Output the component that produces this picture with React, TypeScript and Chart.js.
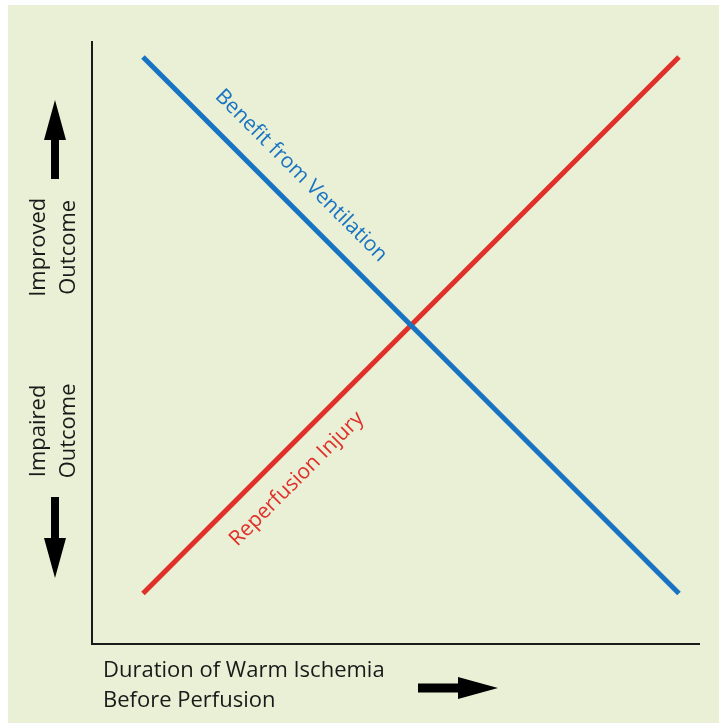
import React, { useEffect, useRef } from "react";
import { Chart, registerables } from "chart.js";

Chart.register(...registerables);

// Data (arbitrary units: x = duration of warm ischemia, y = outcome)
const xPoints = [8.4, 96.7];
const benefitValues = [97.5, 8.4];
const injuryValues = [8.4, 97.5];

const benefitLabel = "Benefit from Ventilation";
const injuryLabel = "Reperfusion Injury";
const improvedLabel = ["Improved", "Outcome"];
const impairedLabel = ["Impaired", "Outcome"];
const xAxisLabel = ["Duration of Warm Ischemia", "Before Perfusion"];

const BG = "#E9F0D5";
const BLUE = "#1873C2";
const RED = "#E0302A";
const INK = "#1a1a1a";
const FONT = "'Open Sans', 'DejaVu Sans', sans-serif";

function arrow(ctx: CanvasRenderingContext2D, x0: number, y0: number, x1: number, y1: number, shaft: number, headW: number, headL: number) {
  const ang = Math.atan2(y1 - y0, x1 - x0);
  const len = Math.hypot(x1 - x0, y1 - y0);
  ctx.save();
  ctx.translate(x0, y0);
  ctx.rotate(ang);
  ctx.beginPath();
  ctx.moveTo(0, -shaft / 2);
  ctx.lineTo(len - headL, -shaft / 2);
  ctx.lineTo(len - headL, -headW / 2);
  ctx.lineTo(len, 0);
  ctx.lineTo(len - headL, headW / 2);
  ctx.lineTo(len - headL, shaft / 2);
  ctx.lineTo(0, shaft / 2);
  ctx.closePath();
  ctx.fillStyle = "#000";
  ctx.fill();
  ctx.restore();
}

function lineLabel(chart: any, xs: number[], ys: number[], t: number, text: string, color: string, offset: number) {
  const sx = chart.scales.x;
  const sy = chart.scales.y;
  const px0 = sx.getPixelForValue(xs[0]);
  const py0 = sy.getPixelForValue(ys[0]);
  const px1 = sx.getPixelForValue(xs[1]);
  const py1 = sy.getPixelForValue(ys[1]);
  let ang = Math.atan2(py1 - py0, px1 - px0);
  if (ang > Math.PI / 2 || ang < -Math.PI / 2) ang += Math.PI;
  const px = px0 + (px1 - px0) * t;
  const py = py0 + (py1 - py0) * t;
  const ctx = chart.ctx as CanvasRenderingContext2D;
  ctx.save();
  ctx.translate(px, py);
  ctx.rotate(ang);
  ctx.font = `21px ${FONT}`;
  ctx.fillStyle = color;
  ctx.textAlign = "center";
  ctx.textBaseline = "middle";
  ctx.fillText(text, 0, -offset);
  ctx.restore();
}

const decorPlugin = {
  id: "decor",
  afterDraw(chart: any) {
    const ctx = chart.ctx as CanvasRenderingContext2D;
    const a = chart.chartArea;
    const h = a.bottom - a.top;

    lineLabel(chart, xPoints, benefitValues, 0.258, benefitLabel, BLUE, 28);
    lineLabel(chart, xPoints, injuryValues, 0.25, injuryLabel, RED, -28);

    ctx.save();
    ctx.font = `22px ${FONT}`;
    ctx.fillStyle = INK;
    ctx.textAlign = "center";
    ctx.textBaseline = "middle";
    const colX = a.left - 38;
    const groups: [string[], number][] = [
      [improvedLabel, 0.341],
      [impairedLabel, 0.646],
    ];
    for (const [lines, f] of groups) {
      ctx.save();
      ctx.translate(colX, a.top + h * f);
      ctx.rotate(-Math.PI / 2);
      ctx.fillText(lines[0], 0, -15);
      ctx.fillText(lines[1], 0, 15);
      ctx.restore();
    }
    ctx.textAlign = "left";
    ctx.fillText(xAxisLabel[0], a.left + 11, a.bottom + 27);
    ctx.fillText(xAxisLabel[1], a.left + 11, a.bottom + 57);
    ctx.restore();

    arrow(ctx, a.left - 37, a.top + 137, a.left - 37, a.top + 58, 8, 22, 40);
    arrow(ctx, a.left - 37, a.top + 455, a.left - 37, a.top + 536, 8, 22, 40);
    arrow(ctx, a.left + 326, a.bottom + 44, a.left + 406, a.bottom + 44, 9, 22, 40);
  },
};

export default function App() {
  const ref = useRef<HTMLCanvasElement | null>(null);
  useEffect(() => {
    if (!ref.current) return;
    const chart = new Chart(ref.current, {
      type: "line",
      data: {
        datasets: [
          {
            label: benefitLabel,
            data: xPoints.map((x, i) => ({ x, y: benefitValues[i] })),
            borderColor: BLUE,
            borderWidth: 5,
            pointRadius: 0,
            borderCapStyle: "butt",
          },
          {
            label: injuryLabel,
            data: xPoints.map((x, i) => ({ x, y: injuryValues[i] })),
            borderColor: RED,
            borderWidth: 5,
            pointRadius: 0,
            borderCapStyle: "butt",
          },
        ],
      },
      options: {
        animation: false,
        responsive: false,
        maintainAspectRatio: false,
        layout: { padding: { left: 76, top: 37, right: 20, bottom: 71 } },
        plugins: { legend: { display: false }, tooltip: { enabled: false } },
        scales: {
          x: {
            type: "linear",
            min: 0,
            max: 100,
            grid: { display: false },
            ticks: { display: false },
            border: { display: true, color: INK, width: 2 },
          },
          y: {
            type: "linear",
            min: 0,
            max: 100,
            grid: { display: false },
            ticks: { display: false },
            border: { display: true, color: INK, width: 2 },
          },
        },
      },
      plugins: [decorPlugin],
    });
    return () => chart.destroy();
  }, []);
  return (
    <div style={{ position: "fixed", left: 8, top: 5, width: 711, height: 718, background: BG }}>
      <canvas ref={ref} width={711} height={718} style={{ display: "block" }} />
    </div>
  );
}
